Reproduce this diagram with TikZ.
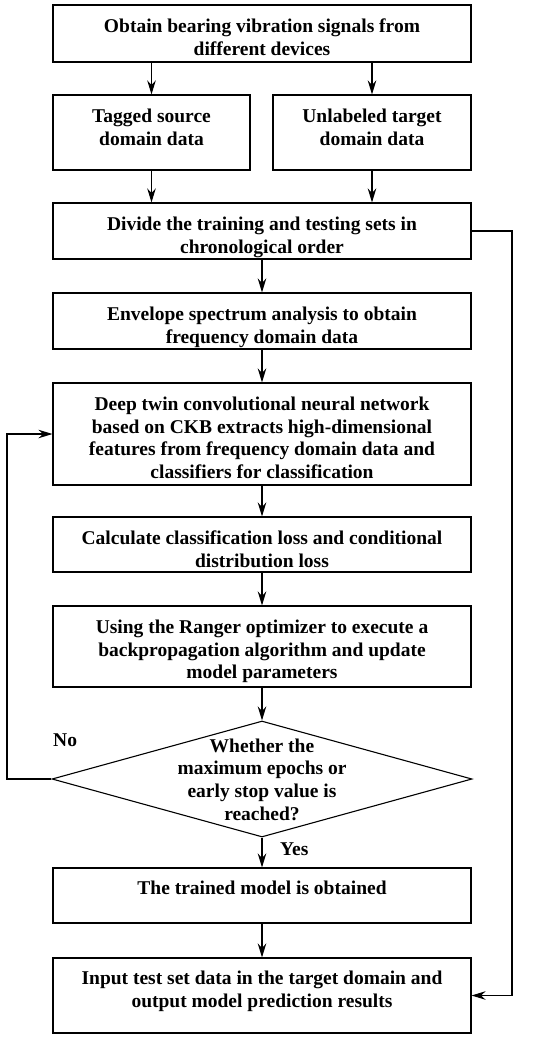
\documentclass[tikz,border=0pt]{standalone}
\usepackage{fontspec}
\setmainfont{Liberation Serif}
\usetikzlibrary{arrows.meta,shapes.geometric}
\begin{document}
\begin{tikzpicture}[x=1pt,y=-1pt,
  txt/.style={font=\fontsize{19.5}{22.6}\selectfont\bfseries, align=center, inner sep=0pt},
  tt/.style={txt, anchor=north},
  box/.style={draw, line width=1.1pt, rectangle, inner sep=0pt},
  arr/.style={line width=1.1pt, -{Stealth[length=14pt,width=8.5pt,inset=4.5pt]}}]
\useasboundingbox (0,0) rectangle (550,1039);
% boxes
\node[box, minimum width=418, minimum height=57] (b1) at (262,33.5) {};
\node[box, minimum width=197, minimum height=75] (b2a) at (151.5,132.5) {};
\node[box, minimum width=198, minimum height=75] (b2b) at (372,132.5) {};
\node[box, minimum width=418, minimum height=56] (b3) at (262,231) {};
\node[box, minimum width=418, minimum height=56] (b4) at (262,321) {};
\node[box, minimum width=418, minimum height=102] (b5) at (262,434) {};
\node[box, minimum width=418, minimum height=55] (b6) at (262,544.5) {};
\node[box, minimum width=418, minimum height=81] (b7) at (262,646.5) {};
\node[diamond, draw, line width=1.1pt, inner sep=0pt, minimum width=420, minimum height=116] (d) at (262,779) {};
\node[box, minimum width=418, minimum height=55] (b8) at (262,895.5) {};
\node[box, minimum width=418, minimum height=75] (b9) at (262,995.5) {};
% texts (first baseline about 28 below the box top)
\node[tt] (b1t) at ([yshift=-14.5pt]b1.north) {Obtain bearing vibration signals from\\different devices};
\node[tt] (b2at) at ([yshift=-14.5pt]b2a.north) {Tagged source\\domain data};
\node[tt] (b2bt) at ([yshift=-14.5pt]b2b.north) {Unlabeled target\\domain data};
\node[tt] (b3t) at ([yshift=-14.5pt]b3.north) {Divide the training and testing sets in\\chronological order};
\node[tt] (b4t) at ([yshift=-14.5pt]b4.north) {Envelope spectrum analysis to obtain\\frequency domain data};
\node[tt] (b5t) at ([yshift=-14.5pt]b5.north) {Deep twin convolutional neural network\\based on CKB extracts high-dimensional\\features from frequency domain data and\\classifiers for classification};
\node[tt] (b6t) at ([yshift=-14.5pt]b6.north) {Calculate classification loss and conditional\\distribution loss};
\node[tt] (b7t) at ([yshift=-14.5pt]b7.north) {Using the Ranger optimizer to execute a\\backpropagation algorithm and update\\model parameters};
\node[tt] (dt) at (262,738.5) {Whether the\\maximum epochs or\\early stop value is\\reached?};
\node[tt] (b8t) at ([yshift=-13.5pt]b8.north) {The trained model is obtained};
\node[tt] (b9t) at ([yshift=-13.5pt]b9.north) {Input test set data in the target domain and\\output model prediction results};
\node[txt, anchor=base west] (no) at (53,746.7) {No};
\node[txt, anchor=base west] (yes) at (280,855) {Yes};
% connectors
\coordinate (r1) at (512,231);
\coordinate (r2) at (512,995.5);
\coordinate (l1) at (7,779);
\coordinate (l2) at (7,434);
\draw[arr] (b1.south -| b2a) -- (b2a.north);
\draw[arr] (b1.south -| b2b) -- (b2b.north);
\draw[arr] (b2a.south) -- (b3.north -| b2a);
\draw[arr] (b2b.south) -- (b3.north -| b2b);
\draw[arr] (b3) -- (b4);
\draw[arr] (b4) -- (b5);
\draw[arr] (b5) -- (b6);
\draw[arr] (b6) -- (b7);
\draw[arr] (b7) -- (d);
\draw[arr] (d) -- (b8);
\draw[arr] (b8) -- (b9);
\draw[arr] (b3.east) -- (r1) -- (r2) -- (b9.east);
\draw[arr] (d.west) -- (l1) -- (l2) -- (b5.west);
\end{tikzpicture}
\end{document}
